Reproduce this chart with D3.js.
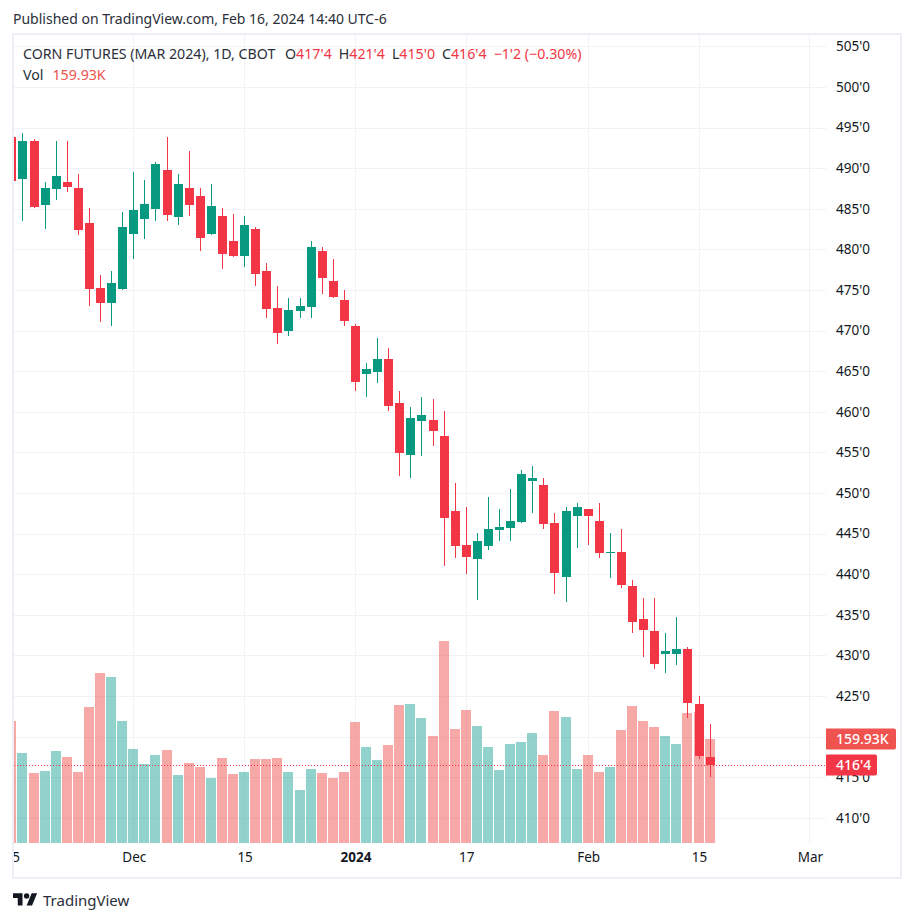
<!DOCTYPE html>
<html>
<head>
<meta charset="utf-8">
<script src="https://cdn.jsdelivr.net/npm/d3@7"></script>
<style>
  html, body { margin: 0; padding: 0; background: #fff; }
  svg { display: block; font-family: "Noto Sans", sans-serif; }
</style>
</head>
<body>
<div id="wrapper"></div>
<script>
// Corn futures daily bars
const opens = [493.83,488.65,493.33,485.45,487.42,488.28,487.55,483.24,475.23,473.38,475.11,481.88,483.73,484.96,489.76,483.97,487.55,486.56,481.88,484.1,481.02,479.17,482.5,477.32,472.77,469.93,472.4,472.89,479.79,476.09,473.75,470.55,464.64,464.89,466.49,461.07,454.66,458.85,458.97,457,447.77,443.58,441.86,443.46,445.43,445.67,446.41,451.46,450.97,446.29,439.64,447.15,448,446.54,442.6,442.72,438.53,434.47,432.99,430.16,430.16,430.77,424,417.5]
const highs = [494.2,494.32,493.58,488.28,493.33,493.33,489.27,485.08,476.83,477.32,484.59,489.52,488.53,490.75,493.83,489.27,492.1,487.55,488.04,485.08,484.34,484.1,482.74,478.31,475.48,474,474,481.02,480.28,478.8,475,470.8,466,469.07,467.84,462.55,460.58,461.81,461.56,460.08,451.22,448.26,445.06,449.49,448.01,450.48,452.82,453.31,451.83,447.52,448.26,448.75,448,448.75,445.06,445.55,439.27,437.05,437.05,432.74,434.71,431.02,424.98,421.5]
const lows = [488,483.48,485.08,482.5,486.07,487.05,481.76,473.01,471.04,470.55,475,478.8,481.27,483.48,483.48,482.99,484.1,479.79,481.76,477.57,479.05,477.82,475.48,471.54,468.33,469.32,471.54,471.54,474.49,474,470.55,462.55,461.81,463.53,460.08,452.08,451.83,454.54,455.77,441,441.98,440.01,436.81,442.97,444.07,444.07,446.29,447.52,445.55,437.55,436.56,443.21,443.58,441.98,439.52,438.28,432.74,429.79,428.31,427.82,428.8,422.28,417.23,415]
const closes = [488.41,493.33,485.2,487.55,489.02,487.67,482.37,475.11,473.38,475.85,482.74,484.84,485.57,490.5,484.22,488.04,485.45,481.39,485.33,479.42,479.17,482.99,476.95,472.64,469.69,472.52,473.01,480.28,476.46,474.12,471.17,463.65,465.26,466.49,460.7,454.91,459.22,459.59,457.62,446.91,443.46,442.1,444.07,445.55,445.8,446.54,452.33,451.83,446.17,440.13,447.77,448.26,447.15,442.6,442.76,438.65,434.1,433.11,428.92,430.53,430.77,424.12,417.6,416.5]
// volume in thousands
const volumes = [187.6,138.4,107.6,110.7,141.5,132.3,109.2,209.1,261.4,255.3,187.6,144.6,121.5,135.3,143,104.6,123,116.9,100,130.7,106.1,109.2,129.2,129.2,130.7,109.2,81.5,113.8,107.6,100,109.2,186.1,147.6,127.6,150.7,212.2,213.8,192.2,164.5,310.6,175.3,204.5,179.9,147.6,112.3,152.2,155.3,169.2,135.3,203,193.8,113.8,135.3,109.2,116.9,173.8,210.7,187.6,178.4,164.5,152.2,199.9,201.5,159.93]

const gridPrices = [410,415,420,425,430,435,440,445,450,455,460,465,470,475,480,485,490,495,500,505]
// 420'0 sits hidden under the volume label in the picture, so it gets no tick text
const priceTicks = [410,415,425,430,435,440,445,450,455,460,465,470,475,480,485,490,495,500,505]
const dateTickIndex = [0,11,21,31,41,52,62,72]
const dateTickLabels = ["15","Dec","15","2024","17","Feb","15","Mar"]

const lastClose = 416.5
const lastCloseLabel = "416'4"
const lastVolumeLabel = "159.93K"

const legendQuote = [["O","417'4"],["H","421'4"],["L","415'0"],["C","416'4"]]
const legendChange = "\u22121'2 (\u22120.30%)"

const upColor = "#089981"
const downColor = "#f23645"
const upVol = "rgba(38,166,154,0.5)"
const downVol = "rgba(239,83,80,0.5)"
const gridColor = "#f1f2f5"
const frameColor = "#eeeff5"
const textColor = "#131722"

const dimensions = { width: 914, height: 922, left: 14, top: 35, right: 826, bottom: 843 }

const wrapper = d3.select("#wrapper").append("svg")
    .attr("width", dimensions.width)
    .attr("height", dimensions.height)

wrapper.append("defs").append("clipPath").attr("id", "pane")
  .append("rect")
    .attr("x", dimensions.left).attr("y", dimensions.top)
    .attr("width", dimensions.right - dimensions.left)
    .attr("height", dimensions.bottom - dimensions.top)

wrapper.append("defs").append("clipPath").attr("id", "timeAxis")
  .append("rect")
    .attr("x", dimensions.left).attr("y", dimensions.bottom)
    .attr("width", dimensions.right - dimensions.left).attr("height", 34)

// Scales
const xScale = d3.scaleLinear().domain([0, 72]).range([11.87, 809.87])
const yScale = d3.scaleLinear().domain([410, 505]).range([817.7, 46.3])
const volScale = d3.scaleLinear().domain([0, 320]).range([843, 634.9])
const px = i => Math.floor(xScale(i))
const py = v => Math.round(yScale(v))

// Frame
wrapper.append("rect")
    .attr("x", 13).attr("y", 34)
    .attr("width", 888).attr("height", 844)
    .attr("fill", "none").attr("stroke", frameColor).attr("stroke-width", 2)

wrapper.append("text")
    .attr("x", 13).attr("y", 24)
    .attr("font-size", 14).attr("fill", "#2a2e39")
    .text("Published on TradingView.com, Feb 16, 2024 14:40 UTC-6")

const pane = wrapper.append("g").attr("clip-path", "url(#pane)")

// Grid
pane.selectAll(".hgrid").data(gridPrices).join("line")
    .attr("x1", dimensions.left).attr("x2", dimensions.right)
    .attr("y1", d => py(d) + 0.5).attr("y2", d => py(d) + 0.5)
    .attr("stroke", gridColor)

pane.selectAll(".vgrid").data(dateTickIndex).join("line")
    .attr("x1", d => px(d) + 0.5).attr("x2", d => px(d) + 0.5)
    .attr("y1", dimensions.top).attr("y2", dimensions.bottom)
    .attr("stroke", gridColor)

// Volume
pane.selectAll(".vol").data(volumes).join("rect")
    .attr("x", (d, i) => px(i) - 5)
    .attr("width", 10)
    .attr("y", d => Math.round(volScale(d)))
    .attr("height", d => 843 - Math.round(volScale(d)))
    .attr("fill", (d, i) => closes[i] >= opens[i] ? upVol : downVol)

// Candles
const candleColor = i => closes[i] >= opens[i] ? upColor : downColor

pane.selectAll(".wick").data(highs).join("rect")
    .attr("x", (d, i) => px(i))
    .attr("width", 1)
    .attr("y", d => py(d))
    .attr("height", (d, i) => py(lows[i]) - py(d))
    .attr("fill", (d, i) => candleColor(i))

pane.selectAll(".body").data(opens).join("rect")
    .attr("x", (d, i) => px(i) - 4)
    .attr("width", 9)
    .attr("y", (d, i) => py(Math.max(d, closes[i])))
    .attr("height", (d, i) => Math.max(1, py(Math.min(d, closes[i])) - py(Math.max(d, closes[i]))))
    .attr("fill", (d, i) => candleColor(i))

// Last price line
pane.append("line")
    .attr("x1", dimensions.left).attr("x2", dimensions.right)
    .attr("y1", py(lastClose) + 0.5).attr("y2", py(lastClose) + 0.5)
    .attr("stroke", downColor)
    .attr("stroke-dasharray", "1 2")

// Axes
const yAxisGenerator = d3.axisRight(yScale)
    .tickValues(priceTicks)
    .tickSize(0)
    .tickPadding(0)
    .tickFormat(d => `${d}'0`)

const yAxis = wrapper.append("g")
    .attr("transform", `translate(836, 0)`)
    .call(yAxisGenerator)
yAxis.select(".domain").remove()
yAxis.selectAll("text")
    .attr("font-size", 13.5).attr("font-family", '"Noto Sans", sans-serif').attr("fill", textColor)

const xAxisGenerator = d3.axisBottom(xScale)
    .tickValues(dateTickIndex)
    .tickSize(0)
    .tickPadding(0)
    .tickFormat((d, i) => dateTickLabels[i])

const xAxis = wrapper.append("g")
    .attr("clip-path", "url(#timeAxis)")
  .append("g")
    .attr("transform", `translate(0, 852)`)
    .call(xAxisGenerator)
xAxis.select(".domain").remove()
xAxis.selectAll("text")
    .attr("font-size", 13.5).attr("font-family", '"Noto Sans", sans-serif').attr("fill", textColor)
    .attr("font-weight", (d, i) => dateTickLabels[i] === "2024" ? 700 : 400)

// Right side labels
function sideLabel(label, centerY, width, fill) {
    wrapper.append("path")
        .attr("d", `M826 ${centerY - 10.5}h${width - 2}a2 2 0 0 1 2 2v17a2 2 0 0 1 -2 2h${-(width - 2)}z`)
        .attr("fill", fill)
    wrapper.append("text")
        .attr("x", 836).attr("y", centerY + 5)
        .attr("font-size", 14).attr("font-weight", 500).attr("fill", "#fff")
        .text(label)
}
sideLabel(lastVolumeLabel, Math.round(volScale(159.93)), 70, "#ef5350")
sideLabel(lastCloseLabel, py(lastClose), 51, downColor)

// Legend
const legend = wrapper.append("text")
    .attr("x", 23).attr("y", 59)
    .attr("font-size", 14.2).attr("fill", "#2a2e39")
legend.append("tspan").text("CORN FUTURES (MAR 2024), 1D, CBOT")
legendQuote.forEach((q, i) => {
    legend.append("tspan").attr("dx", i === 0 ? 10 : 7).text(q[0])
    legend.append("tspan").attr("fill", downColor).text(q[1])
})
legend.append("tspan").attr("dx", 7).attr("fill", downColor).text(legendChange)

const volLegend = wrapper.append("text")
    .attr("x", 23).attr("y", 80)
    .attr("font-size", 14.2).attr("fill", "#2a2e39")
volLegend.append("tspan").text("Vol")
volLegend.append("tspan").attr("dx", 9).attr("fill", "#ef5350").text(lastVolumeLabel)

// Footer logo
wrapper.append("path")
    .attr("transform", "translate(13, 890.6) scale(0.68)")
    .attr("fill", textColor)
    .attr("d", "M14 22H7V11H0V4h14v18zM28 22h-8l7.5-18h8L28 22z")
wrapper.append("circle")
    .attr("transform", "translate(13, 890.6) scale(0.68)")
    .attr("cx", 20).attr("cy", 8).attr("r", 4)
    .attr("fill", textColor)
wrapper.append("text")
    .attr("x", 43).attr("y", 906)
    .attr("font-size", 15).attr("fill", "#2a2e39")
    .text("TradingView")
</script>
</body>
</html>
